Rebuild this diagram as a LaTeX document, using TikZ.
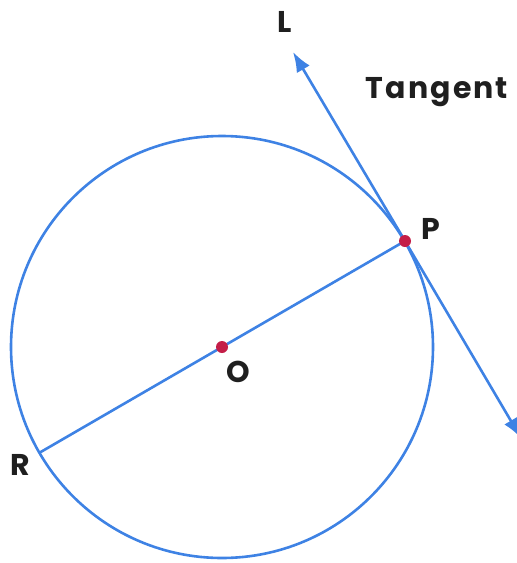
\documentclass[tikz,border=0pt]{standalone}
\usepackage{fontspec}
\setmainfont{Poppins}
\newfontfamily\lblfont[LetterSpace=7]{Poppins}
\usetikzlibrary{arrows.meta}
\definecolor{lineblue}{RGB}{62,130,228}
\definecolor{dotred}{RGB}{196,30,72}
\begin{document}
\begin{tikzpicture}[x=1pt,y=-1pt,
  geom/.style={draw=lineblue,line width=2.6pt},
  tan/.style={geom,-{Latex[length=20pt,width=15pt]}},
  dotpt/.style={circle,fill=dotred,inner sep=0pt,minimum size=12pt},
  lbl/.style={font=\lblfont\fontsize{30}{32}\selectfont\bfseries,text=black!88,inner sep=0pt}]
\useasboundingbox (0,0) rectangle (517,563);
\clip (0,0) rectangle (517,563);
\coordinate (O) at (222,347);
\coordinate (P) at (405,241);
\coordinate (R) at (39,453);
\coordinate (Ltip) at (293,52);
\coordinate (Btip) at (521,438);
\draw[geom] (O) circle[radius=211];
\draw[geom] (R) -- (P);
\draw[tan] (P) -- (Ltip);
\draw[tan] (P) -- (Btip);
\node[dotpt] (Od) at (O) {};
\node[dotpt] (Pd) at (P) {};
\node[lbl] (Llbl) at (285,22) {L};
\node[lbl] (Tlbl) at (437,92) {Tangent};
\node[lbl] (Plbl) at (431,229) {P};
\node[lbl] (Olbl) at (238,372) {O};
\node[lbl] (Rlbl) at (20,465) {R};
\end{tikzpicture}
\end{document}
